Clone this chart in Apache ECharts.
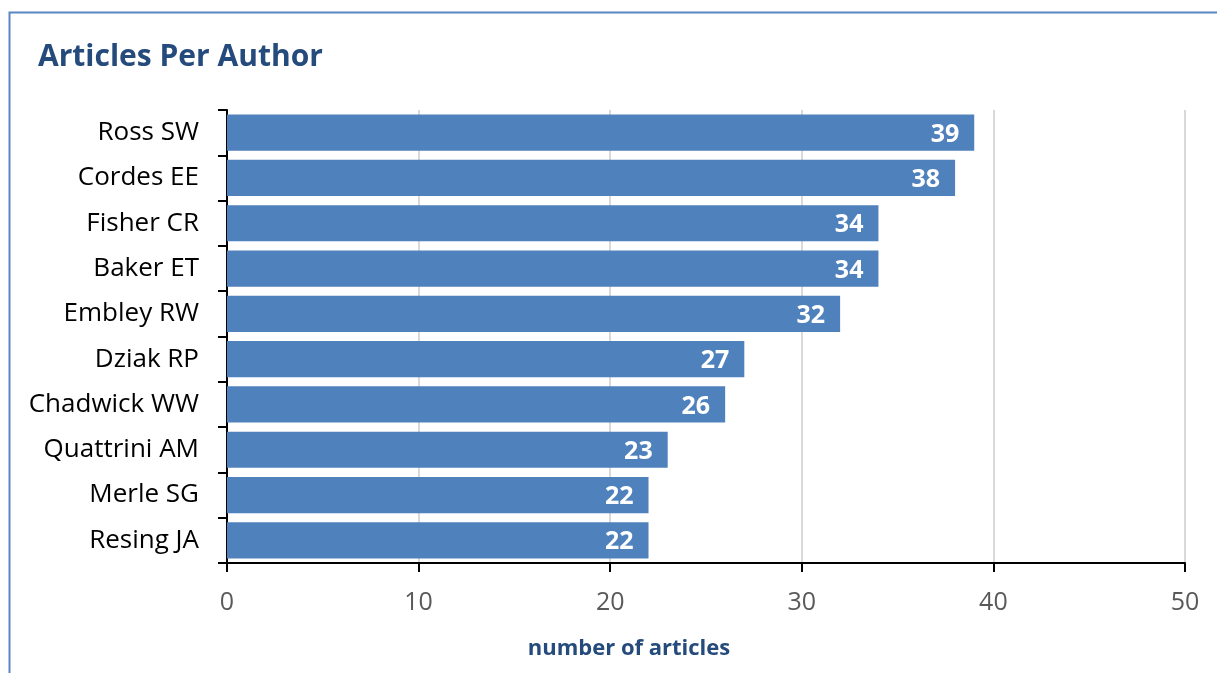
<!DOCTYPE html>
<html>
<head>
<meta charset="utf-8">
<script src="https://cdn.jsdelivr.net/npm/echarts@6/dist/echarts.min.js"></script>
<style>
html, body { margin: 0; padding: 0; background: #fff; }
#chart { width: 1217px; height: 673px; }
</style>
</head>
<body>
<div id="chart"></div>
<script>
var authors = ['Ross SW', 'Cordes EE', 'Fisher CR', 'Baker ET', 'Embley RW', 'Dziak RP', 'Chadwick WW', 'Quattrini AM', 'Merle SG', 'Resing JA'];
var articles = [39, 38, 34, 34, 32, 27, 26, 23, 22, 22];
var xTicks = [0, 10, 20, 30, 40, 50];

var fontName = '"Open Sans", sans-serif';

var option = {
	animation: false,
	backgroundColor: '#fff',
	title: {
		text: 'Articles Per Author',
		left: 33,
		top: 37,
		textStyle: {
			fontFamily: fontName,
			fontSize: 30,
			fontWeight: 'bold',
			color: '#254a7c'
		}
	},
	graphic: [{
		type: 'rect',
		shape: { x: 9.5, y: 12.5, width: 1400, height: 900 },
		style: { fill: 'none', stroke: '#5a86c2', lineWidth: 2 },
		silent: true
	}],
	grid: {
		left: 227,
		right: 32,
		top: 110,
		bottom: 110
	},
	xAxis: {
		type: 'value',
		min: xTicks[0],
		max: xTicks[xTicks.length - 1],
		interval: 10,
		name: 'number of articles',
		nameLocation: 'middle',
		nameGap: 75,
		nameTextStyle: {
			fontFamily: fontName,
			fontSize: 22,
			fontWeight: 'bold',
			color: '#254a7c',
			padding: [0, 154, 0, 0]
		},
		axisLine: { show: true, lineStyle: { color: '#000', width: 2 } },
		axisTick: { show: true, length: 9, lineStyle: { color: '#000', width: 2 } },
		axisLabel: {
			fontFamily: fontName,
			fontSize: 25,
			color: '#595959',
			margin: 27
		},
		splitLine: { show: true, lineStyle: { color: '#d9d9d9', width: 2 } }
	},
	yAxis: {
		type: 'category',
		data: authors,
		inverse: true,
		axisLine: { show: true, lineStyle: { color: '#000', width: 2 } },
		axisTick: { show: true, length: 9, lineStyle: { color: '#000', width: 2 } },
		axisLabel: {
			fontFamily: fontName,
			fontSize: 26,
			color: '#000',
			margin: 28,
			padding: [4, 0, 0, 0]
		}
	},
	series: [{
		type: 'bar',
		data: articles,
		barCategoryGap: '20%',
		itemStyle: { color: '#4f81bd' },
		label: {
			show: true,
			position: 'insideRight',
			distance: 15,
			offset: [0, 2],
			fontFamily: fontName,
			fontSize: 25,
			fontWeight: 'bold',
			color: '#fff'
		}
	}]
};

var myChart = echarts.init(document.getElementById('chart'));
myChart.setOption(option);
</script>
</body>
</html>
